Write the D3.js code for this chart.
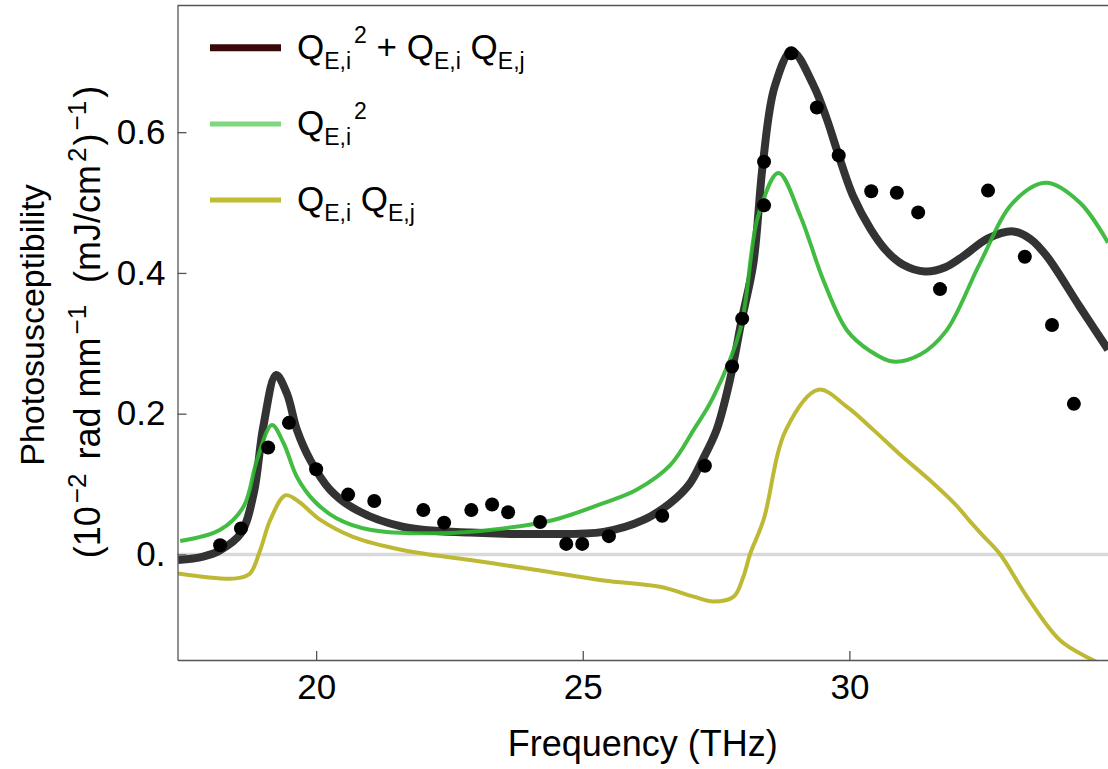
<!DOCTYPE html>
<html lang="en">
<head>
    <meta charset="UTF-8">
    <title>Photosusceptibility</title>
    <script src="https://d3js.org/d3.v7.min.js" charset="utf-8"></script>
    <style>
        body { margin: 0; background: #fff; }
        svg text { font-family: "Liberation Sans", Arial, sans-serif; fill: #000; }
        .axis path, .axis line { fill: none; stroke: #555; stroke-width: 1.3; }
        .axis text { font-size: 35px; font-family: "Liberation Sans", Arial, sans-serif; }
    </style>
</head>
<body>
<script>
    // measured points (THz, value)
    let dotFreq = [18.2, 18.59, 19.1, 19.49, 20.0, 20.6, 21.09, 22.01, 22.4, 22.91, 23.3, 23.6, 24.2,
        24.69, 24.99, 25.49, 26.49, 27.29, 27.8, 27.99, 28.4, 28.4, 28.91, 29.39, 29.8, 30.41, 30.89,
        31.29, 31.7, 32.6, 33.29, 33.8, 34.21];
    let dotVal = [0.013, 0.037, 0.152, 0.187, 0.121, 0.085, 0.076, 0.063, 0.045, 0.063, 0.071, 0.06, 0.046,
        0.015, 0.015, 0.026, 0.055, 0.126, 0.267, 0.335, 0.496, 0.558, 0.712, 0.635, 0.567, 0.516, 0.514,
        0.486, 0.377, 0.517, 0.423, 0.326, 0.214];

    // total fit: Q_Ei^2 + Q_Ei Q_Ej
    let totalFreq = [17.41, 17.88, 18.2, 18.59, 18.83, 19.01, 19.25, 19.45, 19.64, 19.89, 20.26, 20.76, 21.64,
        22.89, 24.14, 25.39, 26.14, 26.64, 27.0, 27.25, 27.51, 27.76, 27.98, 28.2, 28.38, 28.6, 28.92,
        29.33, 29.58, 29.76, 30.07, 30.4, 30.7, 31.0, 31.42, 31.8, 32.14, 32.6, 33.07, 33.4, 33.7, 34.32, 34.85];
    let totalVal = [-0.008, -0.003, 0.006, 0.03, 0.087, 0.182, 0.255, 0.229, 0.177, 0.134, 0.092, 0.063, 0.039,
        0.031, 0.029, 0.032, 0.049, 0.073, 0.1, 0.135, 0.177, 0.248, 0.333, 0.414, 0.557, 0.665, 0.715,
        0.666, 0.618, 0.576, 0.509, 0.462, 0.431, 0.412, 0.402, 0.408, 0.424, 0.449, 0.459, 0.448, 0.424, 0.352, 0.291];

    // Q_Ei^2 term
    let sqFreq = [17.45, 18.2, 18.64, 18.89, 19.17, 19.39, 19.64, 19.95, 20.39, 21.01, 22.26, 23.51, 24.45,
        25.39, 26.01, 26.64, 27.08, 27.45, 27.95, 28.29, 28.67, 29.08, 29.51, 29.95, 30.39, 30.82, 31.33, 31.82, 32.45,
        33.07, 33.69, 34.32, 34.85];
    let sqVal = [0.019, 0.035, 0.068, 0.134, 0.184, 0.158, 0.11, 0.077, 0.051, 0.035, 0.03, 0.037, 0.049,
        0.073, 0.092, 0.127, 0.177, 0.224, 0.319, 0.481, 0.542, 0.481, 0.39, 0.319, 0.289, 0.274, 0.284, 0.318, 0.414,
        0.5, 0.528, 0.5, 0.443];

    // Q_Ei Q_Ej cross term
    let crossFreq = [17.41, 18.5, 18.76, 18.95, 19.14, 19.42, 19.64, 20.08, 20.69, 21.64, 22.89, 24.14, 25.39,
        26.45, 27.08, 27.45, 27.83, 28.01, 28.14, 28.39, 28.81, 29.42, 29.95, 30.45, 30.95, 31.5, 32.0, 32.25, 32.5, 32.83,
        33.33, 33.95, 34.51, 34.85];
    let crossVal = [-0.027, -0.034, -0.027, 0.006, 0.049, 0.084, 0.077, 0.049, 0.025, 0.006, -0.008, -0.022, -0.037,
        -0.046, -0.06, -0.067, -0.06, -0.032, 0.001, 0.049, 0.177, 0.234, 0.21, 0.177, 0.142, 0.106, 0.07, 0.048, 0.027, 0.0,
        -0.06, -0.122, -0.148, -0.16];

    let xTicks = [20, 25, 30];
    let yTicks = [0, 0.2, 0.4, 0.6];

    var W = 1108, H = 769;
    var mLeft = 177.5, mTop = 5.5, mBottom = 660, mRight = 1108;

    var svg = d3.select('body').append('svg').attr('width', W).attr('height', H);

    let x = d3.scaleLinear().domain([17.4, 34.85]).range([mLeft, mRight]);
    let y = d3.scaleLinear().domain([-0.15, 0.78]).range([mBottom, mTop]);

    svg.append('clipPath').attr('id', 'plot')
        .append('rect').attr('x', mLeft).attr('y', mTop).attr('width', mRight - mLeft).attr('height', mBottom - mTop);

    var plot = svg.append('g').attr('clip-path', 'url(#plot)');

    // zero line
    plot.append('line')
        .attr('x1', mLeft).attr('x2', mRight)
        .attr('y1', y(0)).attr('y2', y(0))
        .attr('stroke', '#d9d9d9').attr('stroke-width', 3.5);

    let line = d3.line()
        .x(function (d) { return x(d[0]); })
        .y(function (d) { return y(d[1]); })
        .curve(d3.curveCatmullRom.alpha(0.5));

    function pairs(a, b) { return a.map(function (v, i) { return [v, b[i]]; }); }

    plot.append('path').datum(pairs(totalFreq, totalVal))
        .attr('d', line).attr('fill', 'none')
        .attr('stroke', '#333333').attr('stroke-width', 8);
    plot.append('path').datum(pairs(sqFreq, sqVal))
        .attr('d', line).attr('fill', 'none')
        .attr('stroke', '#2fb52f').attr('stroke-opacity', 0.9).attr('stroke-width', 4);
    plot.append('path').datum(pairs(crossFreq, crossVal))
        .attr('d', line).attr('fill', 'none')
        .attr('stroke', '#bdb934').attr('stroke-width', 4);

    plot.selectAll('circle')
        .data(pairs(dotFreq, dotVal)).enter()
        .append('circle')
        .attr('cx', function (d) { return x(d[0]); })
        .attr('cy', function (d) { return y(d[1]); })
        .attr('r', 7)
        .attr('fill', '#000');

    // axes
    let xAxis = d3.axisBottom(x).tickValues(xTicks).tickSizeInner(-9).tickSizeOuter(0).tickPadding(14);
    svg.append('g').attr('class', 'axis')
        .attr('transform', 'translate(0,' + mBottom + ')')
        .call(xAxis);

    let yAxis = d3.axisLeft(y).tickValues(yTicks).tickSizeInner(-9).tickSizeOuter(0).tickPadding(12)
        .tickFormat(function (d) { return d === 0 ? '0.' : d3.format('.1f')(d); });
    svg.append('g').attr('class', 'axis')
        .attr('transform', 'translate(' + mLeft + ',0)')
        .call(yAxis);

    // top frame
    svg.append('line')
        .attr('x1', mLeft).attr('x2', mRight).attr('y1', mTop).attr('y2', mTop)
        .attr('stroke', '#555').attr('stroke-width', 1.3);

    // axis titles
    svg.append('text')
        .attr('x', (mLeft + mRight) / 2).attr('y', 756)
        .attr('text-anchor', 'middle').attr('font-size', 36)
        .text('Frequency (THz)');

    svg.append('text')
        .attr('transform', 'translate(44,325) rotate(-90)')
        .attr('text-anchor', 'middle').attr('font-size', 34)
        .text('Photosusceptibility');

    let yt2 = svg.append('text')
        .attr('transform', 'translate(100,322) rotate(-90)')
        .attr('text-anchor', 'middle').attr('font-size', 36);
    // [text, superscript?, extra gap before]
    let parts2 = [['(10', 0, 0], ['\u22122', 1, 3], ['rad mm', 0, 14], ['\u22121', 1, 3], ['(mJ/cm', 0, 22],
        ['2', 1, 3], [')', 0, 2], ['\u22121', 1, 3], [')', 0, 3]];
    let prev = 0;
    parts2.forEach(function (p) {
        let shift = p[1] ? -14 : 0;
        yt2.append('tspan')
            .attr('dy', shift - prev)
            .attr('dx', p[2])
            .attr('font-size', p[1] ? 26 : 36)
            .text(p[0]);
        prev = shift;
    });

    // legend
    let legendColors = ['#3a0808', '#7fd87f', '#c0bc30'];
    let legendWidths = [7, 5, 5];
    let legendY = [47.7, 124, 200];
    // each label: [text, kind] kind 0 main, 1 subscript, 2 superscript
    let legendLabels = [
        [['Q', 0], ['E,i', 1], ['2', 2], [' + Q', 0], ['E,i', 1], [' Q', 0], ['E,j', 1]],
        [['Q', 0], ['E,i', 1], ['2', 2]],
        [['Q', 0], ['E,i', 1], [' Q', 0], ['E,j', 1]]
    ];

    legendY.forEach(function (ly, i) {
        svg.append('line')
            .attr('x1', 210).attr('x2', 281).attr('y1', ly).attr('y2', ly)
            .attr('stroke', legendColors[i]).attr('stroke-width', legendWidths[i]);
        let t = svg.append('text').attr('x', 297).attr('y', ly + 11).attr('font-size', 35);
        let cur = 0;
        legendLabels[i].forEach(function (p) {
            let shift = p[1] === 1 ? 10 : (p[1] === 2 ? -16 : 0);
            t.append('tspan')
                .attr('dy', shift - cur)
                .attr('dx', p[1] === 2 ? 3 : 0)
                .attr('font-size', p[1] ? 23 : 35)
                .text(p[0]);
            cur = shift;
        });
    });
</script>
</body>
</html>
